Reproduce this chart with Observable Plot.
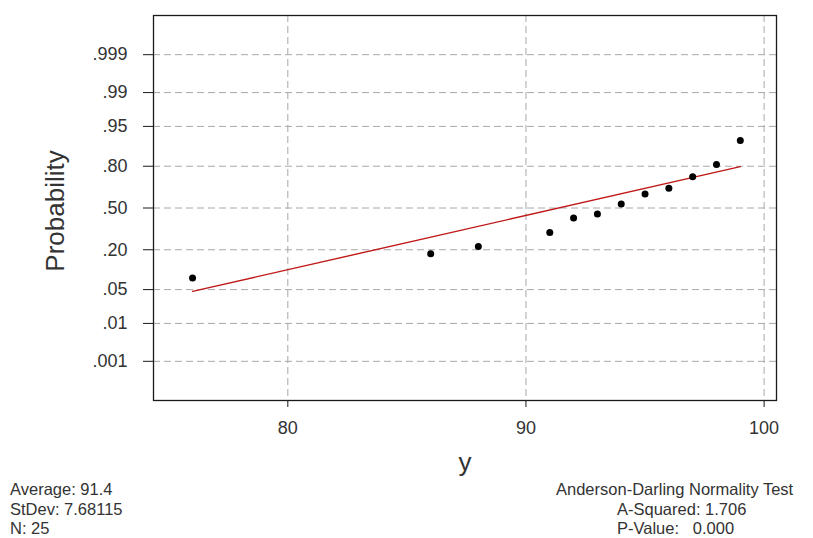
<!DOCTYPE html>
<html>
<head>
<meta charset="utf-8">
<script src="https://cdn.jsdelivr.net/npm/d3@7"></script>
<script src="https://cdn.jsdelivr.net/npm/@observablehq/plot@0.6"></script>
<style>
  html, body { margin: 0; padding: 0; background: #fff; }
  #wrap { width: 813px; font-family: "Liberation Sans", Arial, sans-serif; color: #333; }
  #stats { position: relative; width: 813px; height: 60px; font-size: 16.5px; line-height: 19.6px; color: #333; }
  #left { position: absolute; left: 10px; top: 2px; }
  #right { position: absolute; left: 556px; top: 2px; }
  #right .sub { padding-left: 61px; white-space: pre; }
</style>
</head>
<body>
<div id="wrap">
  <div id="chart"></div>
  <div id="stats">
    <div id="left"></div>
    <div id="right"></div>
  </div>
</div>
<script>
// ---- data ----
const yValues = [76, 86, 88, 91, 92, 93, 94, 95, 96, 97, 98, 99];
const probabilities = [0.079, 0.178, 0.219, 0.311, 0.42, 0.452, 0.532, 0.611, 0.654, 0.736, 0.81, 0.913];
const fitY = [76, 99];
const fitProb = [0.0464, 0.7975];
const xTicks = [80, 90, 100];
const probTicks = [0.001, 0.01, 0.05, 0.2, 0.5, 0.8, 0.95, 0.99, 0.999];
const probTickLabels = [".001", ".01", ".05", ".20", ".50", ".80", ".95", ".99", ".999"];
const statsLeft = ["Average: 91.4", "StDev: 7.68115", "N: 25"];
const statsRight = ["Anderson-Darling Normality Test", "A-Squared: 1.706", "P-Value:   0.000"];

// inverse normal CDF (Acklam) for the probability (probit) axis
function probit(p) {
  const a = [-3.969683028665376e+01, 2.209460984245205e+02, -2.759285104469687e+02, 1.383577518672690e+02, -3.066479806614716e+01, 2.506628277459239e+00];
  const b = [-5.447609879822406e+01, 1.615858368580409e+02, -1.556989798598866e+02, 6.680131188771972e+01, -1.328068155288572e+01];
  const c = [-7.784894002430293e-03, -3.223964580411365e-01, -2.400758277161838e+00, -2.549732539343734e+00, 4.374664141464968e+00, 2.938163982698783e+00];
  const d = [7.784695709041462e-03, 3.224671290700398e-01, 2.445134137142996e+00, 3.754408661907416e+00];
  const plow = 0.02425;
  let q, r;
  if (p < plow) {
    q = Math.sqrt(-2 * Math.log(p));
    return (((((c[0]*q+c[1])*q+c[2])*q+c[3])*q+c[4])*q+c[5]) / ((((d[0]*q+d[1])*q+d[2])*q+d[3])*q+1);
  } else if (p <= 1 - plow) {
    q = p - 0.5; r = q * q;
    return (((((a[0]*r+a[1])*r+a[2])*r+a[3])*r+a[4])*r+a[5])*q / (((((b[0]*r+b[1])*r+b[2])*r+b[3])*r+b[4])*r+1);
  } else {
    q = Math.sqrt(-2 * Math.log(1 - p));
    return -(((((c[0]*q+c[1])*q+c[2])*q+c[3])*q+c[4])*q+c[5]) / ((((d[0]*q+d[1])*q+d[2])*q+d[3])*q+1);
  }
}

const points = yValues.map((v, i) => ({x: v, z: probit(probabilities[i])}));
const fit = fitY.map((v, i) => ({x: v, z: probit(fitProb[i])}));
const zTicks = probTicks.map(probit);
const labelFor = z => probTickLabels[zTicks.indexOf(z)];

const gridStyle = {stroke: "#a8a8a8", strokeOpacity: 1, strokeWidth: 1, strokeDasharray: "7,4"};

const chart = Plot.plot({
  width: 813,
  height: 478,
  marginLeft: 153,
  marginRight: 37,
  marginTop: 15,
  marginBottom: 78,
  style: {fontFamily: "Liberation Sans, Arial, sans-serif", color: "#333", background: "#fff"},
  x: {domain: [74.36, 100.52]},
  y: {domain: [-3.88, 3.88]},
  marks: [
    Plot.gridX(xTicks, gridStyle),
    Plot.gridY(zTicks, gridStyle),
    Plot.axisX(xTicks, {tickSize: 7, tickPadding: 14, fontSize: 18, label: null, stroke: "#1a1a1a"}),
    Plot.axisY(zTicks, {tickSize: 10, tickPadding: 16, fontSize: 18, label: null, tickFormat: labelFor, stroke: "#1a1a1a"}),
    Plot.frame({stroke: "#1a1a1a", strokeWidth: 1.3}),
    Plot.line(fit, {x: "x", y: "z", stroke: "#c01818", strokeWidth: 1.4}),
    Plot.dot(points, {x: "x", y: "z", r: 3.5, fill: "#000", stroke: "none"}),
    Plot.text(["y"], {frameAnchor: "bottom", dy: 70, fontSize: 26, fill: "#333"}),
    Plot.text(["Probability"], {frameAnchor: "left", textAnchor: "middle", dx: -98, dy: 3, rotate: -90, fontSize: 26, fill: "#333"})
  ]
});
document.getElementById("chart").appendChild(chart);

document.getElementById("left").innerHTML = statsLeft.map(s => `<div>${s}</div>`).join("");
document.getElementById("right").innerHTML = statsRight.map((s, i) => `<div class="${i ? "sub" : ""}">${s}</div>`).join("");
</script>
</body>
</html>
